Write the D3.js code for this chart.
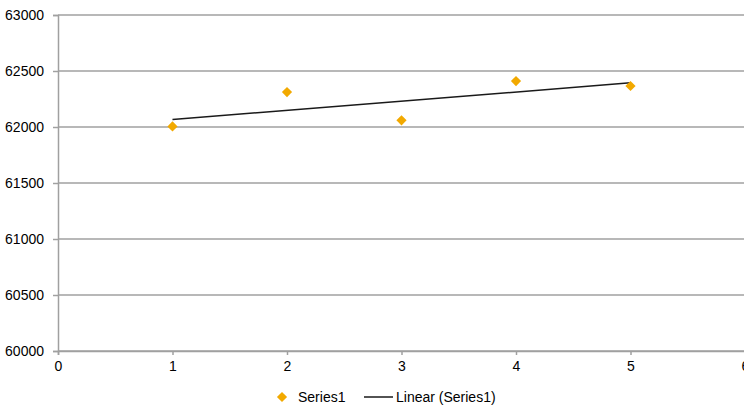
<!DOCTYPE html>
<html>
<head>
<meta charset="utf-8">
<script src="https://cdn.jsdelivr.net/npm/d3@7"></script>
<style>
  html, body { margin: 0; padding: 0; background: #fff; overflow: hidden; }
  svg { display: block; font-family: "Liberation Sans", Arial, sans-serif; }
</style>
</head>
<body>
<svg id="chart" width="744" height="407"></svg>
<script>
const xValues = [1, 2, 3, 4, 5];
const yValues = [62005, 62312, 62060, 62410, 62366];
const xTicks = [0, 1, 2, 3, 4, 5, 6];
const yTicks = [60000, 60500, 61000, 61500, 62000, 62500, 63000];
const seriesName = "Series1";
const trendName = "Linear (Series1)";

const svg = d3.select("#chart");
const fontSize = 14;

const x = d3.scaleLinear().domain([0, 6]).range([58, 745]);
const y = d3.scaleLinear().domain([60000, 63000]).range([351, 15]);

const gridColor = "#a0a0a0";

// horizontal gridlines
svg.append("g").selectAll("line").data(yTicks).join("line")
  .attr("x1", x(0)).attr("x2", x(6))
  .attr("y1", d => y(d)).attr("y2", d => y(d))
  .attr("stroke", gridColor).attr("stroke-width", 1.5);

// y axis
const yAxis = svg.append("g").attr("transform", `translate(${x(0)},0)`)
  .call(d3.axisLeft(y).tickValues(yTicks).tickSize(5).tickPadding(9).tickFormat(d3.format("d")));
yAxis.select(".domain").attr("stroke", gridColor).attr("stroke-width", 1.5);
yAxis.selectAll(".tick line").attr("stroke", gridColor).attr("stroke-width", 1.5);
yAxis.selectAll("text").attr("font-size", fontSize).attr("fill", "#000")
  .attr("font-family", "Liberation Sans, Arial, sans-serif");

// x axis
const xAxis = svg.append("g").attr("transform", `translate(0,${y(60000)})`)
  .call(d3.axisBottom(x).tickValues(xTicks).tickSize(4).tickPadding(6).tickFormat(d3.format("d")));
xAxis.select(".domain").attr("stroke", gridColor).attr("stroke-width", 1.5);
xAxis.selectAll(".tick line").attr("stroke", gridColor).attr("stroke-width", 1.5);
xAxis.selectAll("text").attr("font-size", fontSize).attr("fill", "#000")
  .attr("font-family", "Liberation Sans, Arial, sans-serif");

// linear trendline (least squares fit of the series)
const n = xValues.length;
const mx = d3.mean(xValues), my = d3.mean(yValues);
let sxy = 0, sxx = 0;
for (let i = 0; i < n; i++) { sxy += (xValues[i]-mx)*(yValues[i]-my); sxx += (xValues[i]-mx)**2; }
const slope = sxy / sxx, intercept = my - slope * mx;
const x0 = d3.min(xValues), x1 = d3.max(xValues);
svg.append("line")
  .attr("x1", x(x0)).attr("y1", y(intercept + slope * x0))
  .attr("x2", x(x1)).attr("y2", y(intercept + slope * x1))
  .attr("stroke", "#1a1a1a").attr("stroke-width", 1.5);

// markers
const markerColor = "#F2A900";
const diamond = d3.symbol().type(d3.symbolSquare).size(52);
svg.append("g").selectAll("path").data(xValues.map((d, i) => [d, yValues[i]])).join("path")
  .attr("d", diamond)
  .attr("transform", d => `translate(${x(d[0])},${y(d[1])}) rotate(45)`)
  .attr("fill", markerColor);

// legend
const legY = 397;
const leg = svg.append("g");
leg.append("path").attr("d", diamond)
  .attr("transform", `translate(282,${legY}) rotate(45)`).attr("fill", markerColor);
leg.append("text").attr("x", 298).attr("y", legY).attr("dy", "0.35em")
  .attr("font-size", fontSize).text(seriesName);
leg.append("line").attr("x1", 364).attr("x2", 393).attr("y1", legY).attr("y2", legY)
  .attr("stroke", "#1a1a1a").attr("stroke-width", 1.5);
leg.append("text").attr("x", 396).attr("y", legY).attr("dy", "0.35em")
  .attr("font-size", fontSize).text(trendName);
</script>
</body>
</html>
